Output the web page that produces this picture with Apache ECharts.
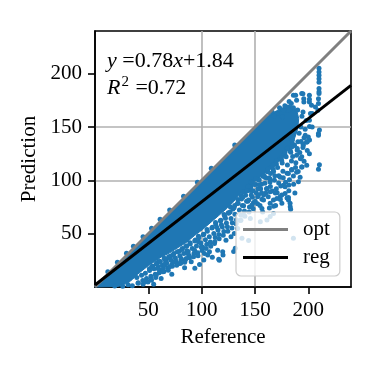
<!DOCTYPE html>
<html>
<head>
<meta charset="utf-8">
<script src="https://cdn.jsdelivr.net/npm/echarts@6/dist/echarts.min.js"></script>
<style>
  html, body { margin: 0; padding: 0; background: #fff; }
  #chart { width: 376px; height: 376px; }
</style>
</head>
<body>
<div id="chart"></div>
<script>
// axis range + ticks
const axisMin = 0;
const axisMax = 240;
const tickValues = [50, 100, 150, 200];

// opt (y = x) and fitted regression line, end points
const optLine = [[0, 0], [240, 240]];
const regLine = [[0, 1.84], [240, 189.04]];

// outline of the solid blue mass where the dots overlap completely
const denseCore = [
  [0, 0.8], [40, 40.8], [80, 80.6], [120, 120.4], [158, 158.8], [166, 163],
  [172, 166], [178, 169], [184, 170], [189, 166], [191, 158], [190, 148],
  [186, 136], [180, 128], [172, 119], [164, 111], [156, 104], [149, 98],
  [142, 92], [135, 86], [129, 79], [124, 74], [116, 67], [109, 61],
  [101, 54], [93, 48], [86, 42], [78, 37], [70, 32], [62, 28], [56, 24],
  [50, 20], [45, 16], [40, 12], [35, 7], [31, 4], [26, 2], [22, 0.5], [0, 0]
];

// dots poking just above the y = x line
const aboveOpt = [
  [12, 14.2], [21, 23.1], [29.5, 31.6], [36, 38.3], [45, 47.2], [53, 55.1],
  [61, 63.4], [70, 72.2], [83, 85.1], [96, 98.2], [109, 111.3], [131, 133.2]
];

// dots sitting on the lower edge of the solid mass
const edgeDots = [
  [51, 17], [54, 19.5], [58, 22.5], [60, 24], [65, 27], [67, 26], [71, 29],
  [74, 31.5], [79, 33.5], [82, 36], [86, 38.5], [89, 41.5], [94, 44], [97, 47.5],
  [102, 49.5], [105, 54], [110, 56], [113, 60.5], [118, 62.5], [121, 68],
  [125, 69.5], [127, 75], [131, 76.5], [134, 82], [137, 85.5], [139, 89], [143, 91],
  [146, 93.5], [151, 96], [154, 100.5], [159, 103], [162, 108], [167, 110.5],
  [170, 115], [175, 118.5], [178, 124], [183, 127.5], [187, 133]
];

// dots in the speckled band just below the solid mass
const speckleBand = [
  [40.5, 4], [39.2, 9], [44.8, 6], [43.6, 11], [45.1, 2.6], [48.3, 8], [47.2, 13],
  [49.6, 4.8], [52.4, 10], [51.1, 15.5], [53.2, 19], [52.8, 6.6], [56.5, 12],
  [55.3, 17.2], [57.4, 21.6], [56.9, 8.8], [60.2, 13.4], [59.4, 19.3], [61.3, 24],
  [60.8, 16], [64.6, 14.5], [63.2, 20.4], [65.5, 26], [64.1, 17.3], [66.2, 23.2],
  [68.4, 18], [67.3, 22.4], [69.1, 28.3], [68.7, 15.6], [72.5, 19.4], [71.2, 25.3],
  [73.3, 30.2], [72.1, 21.4], [76.6, 20.3], [75.4, 27.2], [77.2, 33.1], [76.1, 24.2],
  [80.3, 22.2], [79.5, 29.4], [81.4, 35.2], [80.7, 25.5], [84.5, 25.1], [83.3, 31.3],
  [85.2, 38.2], [84.1, 23.2], [86.2, 34.1], [88.6, 27.4], [87.4, 33.2], [89.3, 40.3],
  [88.2, 29.5], [92.4, 28.3], [91.2, 36.1], [93.5, 43.2], [92.8, 31.4], [96.3, 32.2],
  [95.1, 38.4], [97.4, 46.1], [96.6, 29.2], [97.2, 42.3], [100.4, 34.3], [99.3, 41.2],
  [101.5, 49.1], [100.8, 37.4], [104.2, 36.2], [103.5, 44.4], [105.3, 52.2], [104.8, 40.1],
  [108.5, 38.3], [107.2, 47.1], [109.6, 55.3], [108.1, 42.2], [112.3, 42.4], [111.4, 50.2],
  [113.2, 59.1], [112.7, 46.3], [116.4, 45.2], [115.3, 53.4], [117.5, 62.1], [116.1, 49.3],
  [120.2, 48.4], [119.4, 56.2], [121.6, 66.3], [120.8, 52.1], [124.5, 52.3], [123.2, 60.1],
  [125.3, 69.2], [124.1, 56.4], [128.4, 55.2], [127.5, 64.3], [129.3, 73.1], [128.7, 60.2],
  [132.3, 59.4], [131.2, 68.2], [133.5, 78.3], [132.6, 63.1], [136.2, 62.3], [135.4, 72.1],
  [137.3, 82.4], [136.8, 67.2], [140.5, 66.4], [139.3, 76.2], [141.2, 86.1], [140.1, 71.3],
  [144.4, 70.2], [143.2, 80.3], [145.5, 90.4], [144.8, 75.1], [143.6, 94.2], [148.3, 73.4],
  [147.5, 84.2], [149.2, 96.1], [148.6, 79.3], [152.4, 78.1], [151.2, 88.3], [153.3, 100.2],
  [152.7, 92.1], [156.5, 82.3], [155.3, 92.2], [157.4, 104.1], [156.1, 96.4], [160.2, 88.1],
  [159.3, 97.2], [161.5, 108.3], [160.7, 102.2], [164.4, 94.3], [163.2, 102.1], [165.3, 112.2],
  [164.6, 106.4], [168.2, 100.1], [167.4, 108.3], [169.5, 116.2], [172.3, 104.2], [171.2, 112.1],
  [173.4, 120.3], [176.2, 108.4], [175.5, 116.2], [177.3, 124.1], [180.4, 114.3], [179.2, 122.1],
  [181.3, 130.2], [184.2, 118.1], [183.5, 126.3], [185.1, 134.2],
  [146.3, 98.4], [150.6, 101.7], [154.2, 95.8], [158.5, 104.6], [162.1, 110.4], [166.7, 114.2],
  [170.3, 118.6], [174.8, 121.5], [178.1, 126.3], [182.6, 128.2], [186.4, 132.7], [190.2, 136.1],
  [148.1, 90.3], [152.5, 84.6], [156.2, 88.4], [160.8, 92.2], [164.1, 98.5], [168.6, 104.3],
  [172.2, 97.6], [176.5, 102.4], [180.1, 106.7], [184.4, 110.2], [188.3, 116.4], [192.6, 120.2],
  [150.2, 80.4], [154.7, 76.3], [158.1, 86.2], [162.4, 84.5], [166.3, 90.1], [170.8, 88.3],
  [174.1, 94.6], [178.6, 98.2], [182.3, 100.5], [186.2, 96.4], [190.5, 108.3], [194.1, 112.5],
  [157.2, 70.3], [163.5, 74.1], [169.3, 76.4], [175.2, 78.6], [181.7, 90.3], [187.4, 88.2],
  [185.3, 122.4], [189.6, 128.1], [193.2, 136.4], [197.1, 142.3], [191.4, 144.2],
  [142.3, 90.1], [138.6, 84.2], [134.2, 78.5], [130.4, 74.3], [126.7, 70.2], [122.3, 64.5],
  [118.5, 58.3], [114.2, 56.1], [146.5, 86.2], [142.1, 80.4], [138.2, 76.3]
];

// sparse dots in the top right
const upperRight = [
  [210, 205], [210, 201.5], [210, 198.4], [210, 195.3], [210, 192], [210, 186],
  [210, 183], [210, 181.5], [209.5, 176.6], [209.5, 172], [209, 165.7],
  [209.5, 143.9], [209.5, 142.3], [209.5, 110.5], [210.4, 147.2], [210.4, 114.5],
  [201, 179.7], [201, 176], [201, 173.4], [202, 162.6], [201, 156.3],
  [200, 140.7], [198.5, 136], [201, 125], [201.1, 150.4], [201.1, 137.9],
  [193.8, 181.3], [186, 179.7], [189, 175], [195.7, 176.5], [181, 168.7],
  [176.4, 165.7], [170.5, 162.6], [188.1, 179.7], [194.9, 181.2], [195.8, 173.5],
  [203, 170.4], [206.7, 168.8], [203.6, 162.6], [203.6, 150.1], [199, 136.1],
  [194.9, 130.8], [189.6, 129.8], [184.9, 137.6], [180.2, 129.8], [181.8, 165.7],
  [175.6, 159.5], [198.5, 114.2], [193.8, 122], [189, 107.5], [192.3, 102.8],
  [190.7, 98.7], [192, 126], [195, 134], [196, 140], [197, 148], [198, 156],
  [194, 160], [190, 166], [186, 168], [184, 172], [178, 170], [173, 168],
  [166, 164], [196, 118], [199, 128], [193, 150], [195, 164], [182, 174],
  [187, 146], [168, 160], [184.4, 131.3], [189, 123.5], [193.7, 112.6],
  [195.3, 132.9], [198.4, 136]
];

// sparse dots below the regression line on the right
const belowReg = [
  [176.7, 95.5], [178.2, 87.7], [173.6, 84.6], [181.4, 81.5], [183, 75.3],
  [167.3, 81.5], [161.2, 92.4], [164.2, 89.3], [158, 81.5], [153.3, 86.2],
  [144, 81.5], [147.2, 76.8], [156.5, 73.7], [167.3, 69], [173.6, 102.8],
  [164.2, 101.2], [178.2, 94], [181.4, 84], [182.9, 78.4], [175.1, 86.2],
  [164.2, 78.4], [170.5, 83], [186, 104], [188, 112], [170, 92],
  [184.4, 109.6], [181.3, 106.5], [169.1, 88.2], [173.8, 82], [167.5, 75.7],
  [180, 83.5], [183.4, 72.8], [181.7, 95.6],
  [139.4, 67.4], [145.6, 64.3], [155, 61.2], [161.2, 62.7], [164.2, 66],
  [186, 45.6], [137.8, 45.6], [144, 43.5]
];

// sparse dots along the lower edge
const lowerFringe = [
  [93.6, 17.6], [102, 25.4], [105.7, 30.1], [116, 26.1], [120, 30.1],
  [130, 33.2], [131.5, 36.3],
  [18.5, 1], [31, 2], [40.4, 3.4], [46.6, 5], [52.8, 6.5], [57.5, 11.2],
  [59, 17.4], [63.7, 14.3], [65.2, 20.5], [69.9, 19], [74.6, 23.6], [79.3, 22],
  [80.8, 26.7], [85.5, 26.7], [90.2, 23.6], [87, 31.4], [93.3, 34.5],
  [99.5, 37.6], [102.6, 31.4], [107.3, 33], [112, 40.8], [115, 34.5],
  [116.6, 25.1], [119.7, 33], [122.8, 43.9], [127.5, 47], [130.6, 50.1],
  [133.7, 54.8], [136.8, 62.6], [35, 1.2], [26, 0.8], [55, 2.5], [62, 8],
  [72, 12], [84, 18], [98, 21], [110, 28]
];
const scatterPoints = [].concat(aboveOpt, edgeDots, speckleBand, upperRight, belowReg, lowerFringe);

const seriesNames = ['opt', 'reg'];
const fitText = '{i|y} =0.78{i|x}+1.84';
const r2Text = '{i|R}{s|2} =0.72';

const serif = 'Liberation Serif';
const blue = '#1f77b4';

const chart = echarts.init(document.getElementById('chart'));

const axisCommon = {
  type: 'value',
  min: axisMin,
  max: axisMax,
  interval: 50,
  nameLocation: 'middle',
  nameTextStyle: { fontFamily: serif, fontSize: 21, color: '#000' },
  axisLine: { show: true, lineStyle: { color: '#000', width: 1.6 } },
  axisTick: { show: true, length: 7, customValues: tickValues, lineStyle: { color: '#000', width: 1.6 } },
  axisLabel: { customValues: tickValues, fontFamily: serif, fontSize: 21, color: '#000', margin: 13 },
  splitLine: { show: true, showMinLine: false, showMaxLine: false, lineStyle: { color: '#b0b0b0', width: 1.6 } }
};

const option = {
  animation: false,
  backgroundColor: '#fff',
  grid: {
    left: 95, right: 25, top: 31, bottom: 89,
    containLabel: false,
    outerBoundsMode: 'none',
    show: true, borderColor: '#000', borderWidth: 1.6, backgroundColor: '#fff'
  },
  xAxis: Object.assign({}, axisCommon, { name: 'Reference', nameGap: 40 }),
  yAxis: Object.assign({}, axisCommon, { name: 'Prediction', nameGap: 55 }),
  legend: {
    data: seriesNames,
    orient: 'vertical',
    left: 236, top: 212,
    padding: [7, 10, 8, 7],
    icon: 'rect',
    itemWidth: 45, itemHeight: 3, itemGap: 7,
    backgroundColor: 'rgba(255,255,255,0.8)',
    borderColor: '#cccccc', borderWidth: 1.2, borderRadius: 5,
    textStyle: { fontFamily: serif, fontSize: 21, color: '#000', padding: [0, 0, 0, 10] }
  },
  graphic: [
    {
      type: 'text', left: 107, top: 50, z: 10,
      style: {
        text: fitText, fill: '#000',
        font: '22px "Liberation Serif"',
        rich: { i: { fontFamily: serif, fontStyle: 'italic', fontSize: 22 } }
      }
    },
    {
      type: 'text', left: 107, top: 75, z: 10,
      style: {
        text: r2Text, fill: '#000',
        font: '22px "Liberation Serif"',
        rich: {
          i: { fontFamily: serif, fontStyle: 'italic', fontSize: 22 },
          s: { fontFamily: serif, fontSize: 15, padding: [0, 1, 12, 1] }
        }
      }
    }
  ],
  series: [
    {
      type: 'custom',
      silent: true,
      z: 1,
      data: [[0, 0]],
      renderItem: function (params, api) {
        return {
          type: 'polygon',
          shape: { points: denseCore.map(p => api.coord(p)), smooth: 0 },
          style: { fill: blue, stroke: blue, lineWidth: 1 }
        };
      }
    },
    {
      type: 'scatter',
      data: scatterPoints,
      symbolSize: 5,
      z: 2,
      itemStyle: { color: blue, opacity: 1 }
    },
    {
      name: 'opt',
      type: 'line',
      data: optLine,
      symbol: 'none',
      z: 3,
      lineStyle: { color: '#808080', width: 3 },
      itemStyle: { color: '#808080' }
    },
    {
      name: 'reg',
      type: 'line',
      data: regLine,
      symbol: 'none',
      z: 3,
      lineStyle: { color: '#000', width: 3 },
      itemStyle: { color: '#000' }
    }
  ]
};

chart.setOption(option);
</script>
</body>
</html>
